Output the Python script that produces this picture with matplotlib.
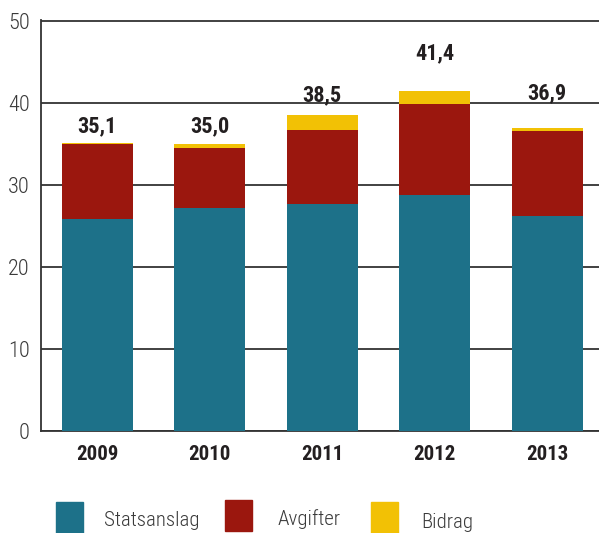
import matplotlib
matplotlib.use("Agg")
import matplotlib.pyplot as plt
from matplotlib.patches import Rectangle
from matplotlib import font_manager

years = ["2009", "2010", "2011", "2012", "2013"]
statsanslag = [25.9, 27.2, 27.7, 28.8, 26.2]
avgifter = [9.1, 7.35, 9.0, 11.1, 10.4]
bidrag = [0.1, 0.45, 1.8, 1.5, 0.3]
total_labels = ["35,1", "35,0", "38,5", "41,4", "36,9"]
label_y = [37.2, 37.2, 40.9, 46.1, 41.2]

series_names = ["Statsanslag", "Avgifter", "Bidrag"]
colors = ["#1d7189", "#9b170e", "#f2c105"]

# pick a narrow font if one is around
names = {f.name for f in font_manager.fontManager.ttflist}
family = "DejaVu Sans"
for cand in ["Liberation Sans Narrow", "Roboto Condensed", "Open Sans Condensed"]:
    if cand in names:
        family = cand
        break
plt.rcParams["font.family"] = [family, "DejaVu Sans"]
plt.rcParams["font.stretch"] = "condensed"

fig = plt.figure(figsize=(5.99, 5.33), dpi=100)
ax = fig.add_axes([41 / 599, 102 / 533, 558 / 599, 411 / 533])

x = range(len(years))
bottom2 = statsanslag
bottom3 = [a + b for a, b in zip(statsanslag, avgifter)]
ax.bar(x, statsanslag, width=0.63, color=colors[0], zorder=3)
ax.bar(x, avgifter, width=0.63, bottom=bottom2, color=colors[1], zorder=3)
ax.bar(x, bidrag, width=0.63, bottom=bottom3, color=colors[2], zorder=3)

for i, (lab, y) in enumerate(zip(total_labels, label_y)):
    ax.text(i, y, lab, ha="center", va="center", fontsize=16,
            fontweight="bold", color="#231f20")

ax.set_ylim(0, 50.1)
ax.set_xlim(-0.5, 4.46)
ax.set_yticks([0, 10, 20, 30, 40, 50])
ax.yaxis.grid(True, color="#333333", linewidth=1.3, zorder=0)
ax.set_axisbelow(True)
ax.tick_params(axis="y", length=0, labelsize=16, labelcolor="#3a3a3a", pad=8)
ax.tick_params(axis="x", length=0, labelsize=15, pad=10)
for t in ax.get_yticklabels():
    t.set_fontweight("light")
ax.set_xticks(list(x))
ax.set_xticklabels(years, fontweight="bold", color="#231f20")
for s in ["top", "right"]:
    ax.spines[s].set_visible(False)
for s in ["left", "bottom"]:
    ax.spines[s].set_color("#333333")
    ax.spines[s].set_linewidth(1.3)

# legend drawn by hand to follow the original placement
legend_boxes = [(56, 502), (225, 500), (371, 502)]
legend_text = [(104, 520), (278, 519), (421, 523)]
for name, c, (bx, by), (tx, ty) in zip(series_names, colors, legend_boxes, legend_text):
    fig.patches.append(Rectangle((bx / 599, 1 - (by + 31) / 533), 27 / 599, 31 / 533,
                                 transform=fig.transFigure, color=c))
    fig.text(tx / 599, 1 - ty / 533, name, ha="left", va="center",
             fontsize=15, fontweight="light", color="#3a3a3a")

fig.savefig("out.png", dpi=100)
